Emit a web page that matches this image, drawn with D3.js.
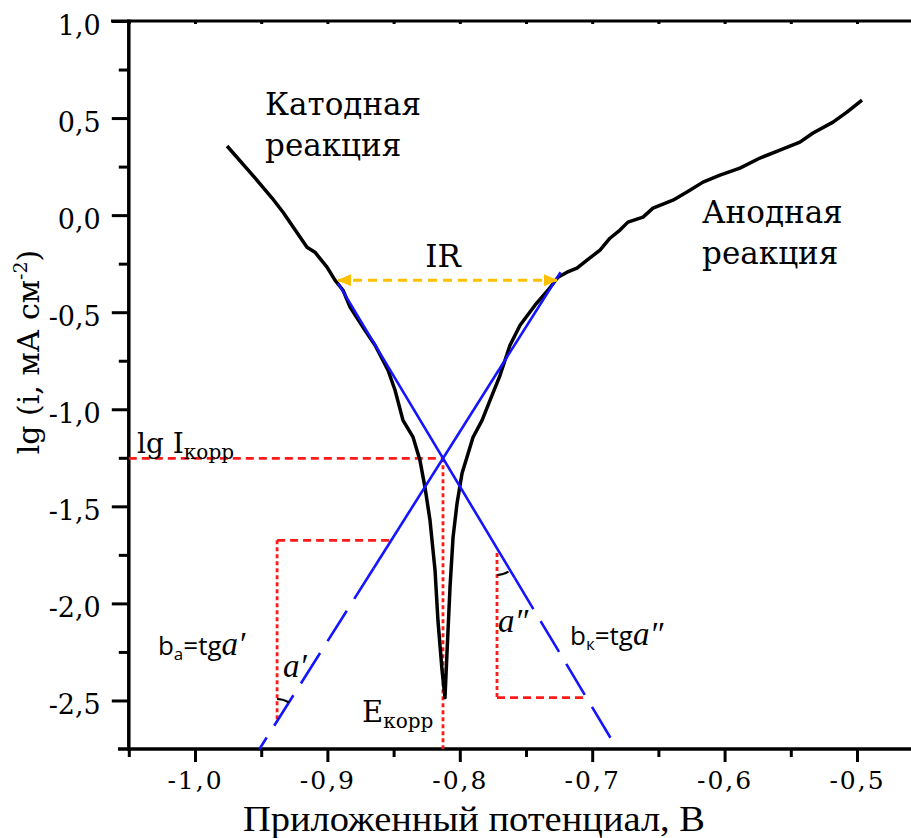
<!DOCTYPE html>
<html>
<head>
<meta charset="utf-8">
<script src="https://cdn.jsdelivr.net/npm/d3@7"></script>
<style>
body { margin: 0; background: #fff; }
</style>
</head>
<body>
<svg id="chart" width="911" height="838"></svg>
<script>
// polarization curve, [potential (V), lg i]
let cathodicBranch = [
	[-0.9758, 0.356], [-0.9585, 0.222], [-0.9418, 0.088], [-0.9335, 0.015],
	[-0.9154, -0.165], [-0.9094, -0.191], [-0.9003, -0.268], [-0.8943, -0.335],
	[-0.8882, -0.387], [-0.8829, -0.474], [-0.8716, -0.593], [-0.8640, -0.670],
	[-0.8542, -0.799], [-0.8489, -0.902], [-0.8429, -1.057], [-0.8353, -1.144],
	[-0.8301, -1.263], [-0.8263, -1.402], [-0.8225, -1.572], [-0.8187, -1.830],
	[-0.8165, -2.088], [-0.8134, -2.345], [-0.8112, -2.485]
];
let anodicBranch = [
	[-0.8112, -2.485], [-0.8097, -2.258], [-0.8074, -1.918], [-0.8051, -1.660],
	[-0.8021, -1.485], [-0.7983, -1.330], [-0.7946, -1.247], [-0.7900, -1.144],
	[-0.7832, -1.057], [-0.7772, -0.954], [-0.7696, -0.825], [-0.7621, -0.670],
	[-0.7545, -0.567], [-0.7432, -0.464], [-0.7334, -0.387], [-0.7258, -0.320],
	[-0.7190, -0.294], [-0.7115, -0.273], [-0.7039, -0.232], [-0.6941, -0.180],
	[-0.6866, -0.119], [-0.6790, -0.077], [-0.6730, -0.036], [-0.6616, -0.010],
	[-0.6541, 0.036], [-0.6390, 0.077], [-0.6284, 0.119], [-0.6163, 0.170],
	[-0.6035, 0.206], [-0.5884, 0.242], [-0.5733, 0.294], [-0.5582, 0.335],
	[-0.5431, 0.376], [-0.5332, 0.423], [-0.5181, 0.479], [-0.5076, 0.531],
	[-0.4962, 0.593]
];

// tafel lines
let anodeTafelSolid = [[-0.7239, -0.294], [-0.8652, -1.82]];
let anodeTafelDashed = [[-0.8652, -1.82], [-0.9513, -2.75]];
let cathodeTafelSolid = [[-0.892, -0.350], [-0.7584, -1.87]];
let cathodeTafelDashed = [[-0.7584, -1.87], [-0.6811, -2.75]];

// red construction lines
let corrLevel = [[-1.05, -1.2526], [-0.8127, -1.2526]];
let corrPotential = [[-0.8127, -1.2526], [-0.8127, -2.75]];
let leftTriH = [[-0.938, -1.675], [-0.8519, -1.675]];
let leftTriV = [[-0.938, -1.675], [-0.938, -2.606]];
let rightTriV = [[-0.7719, -1.74], [-0.7719, -2.485]];
let rightTriH = [[-0.7719, -2.485], [-0.7039, -2.485]];

let irArrow = [[-0.892, -0.335], [-0.7266, -0.335]];

let potentialTicks = [-1.0, -0.9, -0.8, -0.7, -0.6, -0.5];
let potentialMinor = [-1.05, -0.95, -0.85, -0.75, -0.65, -0.55, -0.45];
let lgTicks = [-2.5, -2.0, -1.5, -1.0, -0.5, 0.0, 0.5, 1.0];
let lgMinor = [-2.25, -1.75, -1.25, -0.75, -0.25, 0.25, 0.75];

let svg = d3.select('#chart');
let x = d3.scaleLinear().domain([-1.05, -0.45]).range([128.8, 923.2]);
let y = d3.scaleLinear().domain([-2.75, 1.0]).range([749, 21]);
let line = d3.line().x(function (d) { return x(d[0]) }).y(function (d) { return y(d[1]) });

function fmt(d) { return d.toFixed(1).replace('.', ','); }

// arrow head for IR
svg.append('defs').append('marker')
	.attr('id', 'arr')
	.attr('markerUnits', 'userSpaceOnUse')
	.attr('viewBox', '0 0 14 12')
	.attr('markerWidth', 14)
	.attr('markerHeight', 12)
	.attr('refX', 13)
	.attr('refY', 6)
	.attr('orient', 'auto-start-reverse')
	.append('path')
	.attr('d', 'M0,0 L14,6 L0,12 z')
	.attr('fill', '#ffc000');

// axes
svg.append('g')
	.attr('transform', 'translate(0,' + y(-2.75) + ')')
	.call(d3.axisBottom(x).tickValues(potentialMinor).tickSize(8).tickFormat(''))
	.call(function (g) { g.select('.domain').remove(); });
let xAxis = svg.append('g')
	.attr('transform', 'translate(0,' + y(-2.75) + ')')
	.call(d3.axisBottom(x).tickValues(potentialTicks).tickSize(13).tickPadding(9).tickFormat(fmt));
xAxis.select('.domain').remove();
xAxis.selectAll('text')
	.attr('font-family', 'DejaVu Serif')
	.attr('font-size', 25)
	.attr('letter-spacing', 2)
	.attr('fill', '#000');

svg.append('g')
	.attr('transform', 'translate(' + x(-1.05) + ',0)')
	.call(d3.axisLeft(y).tickValues(lgMinor).tickSize(10).tickFormat(''))
	.call(function (g) { g.select('.domain').remove(); });
let yAxis = svg.append('g')
	.attr('transform', 'translate(' + x(-1.05) + ',0)')
	.call(d3.axisLeft(y).tickValues(lgTicks).tickSize(17).tickPadding(11).tickFormat(fmt));
yAxis.select('.domain').remove();
yAxis.selectAll('text')
	.attr('font-family', 'DejaVu Serif')
	.attr('font-size', 27)
	.attr('dy', '0.5em')
	.attr('fill', '#000');

// top frame with small ticks
svg.append('g')
	.attr('transform', 'translate(0,' + y(1.0) + ')')
	.call(d3.axisBottom(x).tickValues(potentialMinor.concat(potentialTicks)).tickSize(3).tickFormat(''))
	.call(function (g) { g.select('.domain').remove(); });

svg.selectAll('.tick line').attr('stroke', '#000').attr('stroke-width', 3);

svg.append('line')
	.attr('x1', 118).attr('x2', 911)
	.attr('y1', y(-2.75)).attr('y2', y(-2.75))
	.attr('stroke', '#000').attr('stroke-width', 3.5);
svg.append('line')
	.attr('x1', 111).attr('x2', 911)
	.attr('y1', y(1.0)).attr('y2', y(1.0))
	.attr('stroke', '#000').attr('stroke-width', 3);
svg.append('line')
	.attr('x1', x(-1.05)).attr('x2', x(-1.05))
	.attr('y1', y(1.0) - 1.5).attr('y2', y(-2.75) + 1.7)
	.attr('stroke', '#000').attr('stroke-width', 3.5);

// red construction lines
let redLines = [
	{pts: corrLevel, dash: '8,5'},
	{pts: corrPotential, dash: '4,3'},
	{pts: leftTriH, dash: '8,5'},
	{pts: leftTriV, dash: '4,3'},
	{pts: rightTriV, dash: '4,3'},
	{pts: rightTriH, dash: '8,5'}
];
svg.selectAll('.red')
	.data(redLines)
	.enter().append('path')
	.attr('class', 'red')
	.attr('d', function (d) { return line(d.pts) })
	.attr('fill', 'none')
	.attr('stroke', '#ff1a1a')
	.attr('stroke-width', 2.8)
	.attr('stroke-dasharray', function (d) { return d.dash });

// polarization curve
svg.append('path')
	.attr('d', line(cathodicBranch.concat(anodicBranch.slice(1))))
	.attr('fill', 'none')
	.attr('stroke', '#000')
	.attr('stroke-width', 3.5)
	.attr('stroke-linejoin', 'round');

// tafel lines
[anodeTafelSolid, cathodeTafelSolid].forEach(function (pts) {
	svg.append('path').attr('d', line(pts))
		.attr('fill', 'none').attr('stroke', '#1414ff').attr('stroke-width', 2.6);
});
[anodeTafelDashed, cathodeTafelDashed].forEach(function (pts) {
	svg.append('path').attr('d', line(pts))
		.attr('fill', 'none').attr('stroke', '#1414ff').attr('stroke-width', 2.6)
		.attr('stroke-dasharray', '36,14');
});

// IR arrow
svg.append('path')
	.attr('d', line(irArrow))
	.attr('stroke', '#ffc000')
	.attr('stroke-width', 3)
	.attr('stroke-dasharray', '9,6')
	.attr('marker-start', 'url(#arr)')
	.attr('marker-end', 'url(#arr)');

// angle arcs
function angleArc(corner, along, fromAngle, r) {
	let cx = x(corner[0]), cy = y(corner[1]);
	let a = Math.atan2(y(along[1]) - cy, x(along[0]) - cx);
	let p = d3.path();
	let a0 = Math.min(a, fromAngle), a1 = Math.max(a, fromAngle);
	p.arc(cx, cy, r, a0, a1);
	svg.append('path').attr('d', p.toString())
		.attr('fill', 'none').attr('stroke', '#000').attr('stroke-width', 2);
}
angleArc(leftTriV[1], anodeTafelSolid[0], -Math.PI / 2, 22);
angleArc(rightTriV[0], cathodeTafelDashed[1], Math.PI / 2, 22);

// labels
function serifText(px, py, size, lines) {
	let t = svg.append('text')
		.attr('x', px).attr('y', py)
		.attr('font-family', 'DejaVu Serif')
		.attr('font-size', size)
		.attr('fill', '#000');
	lines.forEach(function (s, i) {
		t.append('tspan').attr('x', px).attr('dy', i == 0 ? 0 : 41).text(s);
	});
	return t;
}
serifText(x(-0.9471), y(0.5155), 31, ['Катодная', 'реакция']);
serifText(x(-0.617), y(-0.041), 31, ['Анодная', 'реакция']);
serifText(x(-0.8127), y(-0.268), 31, ['IR']).attr('text-anchor', 'middle');

let lgI = svg.append('text')
	.attr('x', x(-1.0438)).attr('y', y(-1.227))
	.attr('font-family', 'DejaVu Serif').attr('font-size', 28).attr('fill', '#000');
lgI.append('tspan').text('lg I');
lgI.append('tspan').attr('font-size', 20).attr('dy', 6).text('корр');

let eCorr = svg.append('text')
	.attr('x', x(-0.8739)).attr('y', y(-2.613))
	.attr('font-family', 'DejaVu Serif').attr('font-size', 29).attr('fill', '#000');
eCorr.append('tspan').text('E');
eCorr.append('tspan').attr('font-size', 20).attr('dy', 6).text('корр');

function slopeLabel(px, py, sub, prime) {
	let t = svg.append('text')
		.attr('x', px).attr('y', py)
		.attr('font-family', 'Open Sans').attr('font-size', 26).attr('fill', '#000');
	t.append('tspan').text('b');
	t.append('tspan').attr('font-size', 17).attr('dy', 5).text(sub);
	t.append('tspan').attr('dy', -5).text('=tg');
	t.append('tspan').attr('font-family', 'Liberation Serif').attr('font-style', 'italic')
		.attr('font-size', 33).text('a' + prime);
}
slopeLabel(x(-1.028), y(-2.268), 'a', '\u2032');
slopeLabel(x(-0.7168), y(-2.216), 'к', '\u2033');

svg.append('text').attr('x', x(-0.9335)).attr('y', y(-2.381))
	.attr('font-family', 'Liberation Serif').attr('font-style', 'italic')
	.attr('font-size', 33).attr('fill', '#000').text('a\u2032');
svg.append('text').attr('x', x(-0.7711)).attr('y', y(-2.149))
	.attr('font-family', 'Liberation Serif').attr('font-style', 'italic')
	.attr('font-size', 33).attr('fill', '#000').text('a\u2033');

// axis titles
svg.append('text')
	.attr('x', 474).attr('y', 831)
	.attr('text-anchor', 'middle')
	.attr('font-family', 'Liberation Serif')
	.attr('font-size', 35)
	.attr('textLength', 462)
	.attr('lengthAdjust', 'spacingAndGlyphs')
	.attr('fill', '#000')
	.text('Приложенный потенциал, В');

let yTitle = svg.append('text')
	.attr('transform', 'translate(39,352) rotate(-90)')
	.attr('text-anchor', 'middle')
	.attr('font-family', 'DejaVu Serif')
	.attr('font-size', 30)
	.attr('fill', '#000');
yTitle.append('tspan').text('lg (i, мА см');
yTitle.append('tspan').attr('font-size', 19).attr('dy', -12).text('-2');
yTitle.append('tspan').attr('dy', 12).text(')');
</script>
</body>
</html>
